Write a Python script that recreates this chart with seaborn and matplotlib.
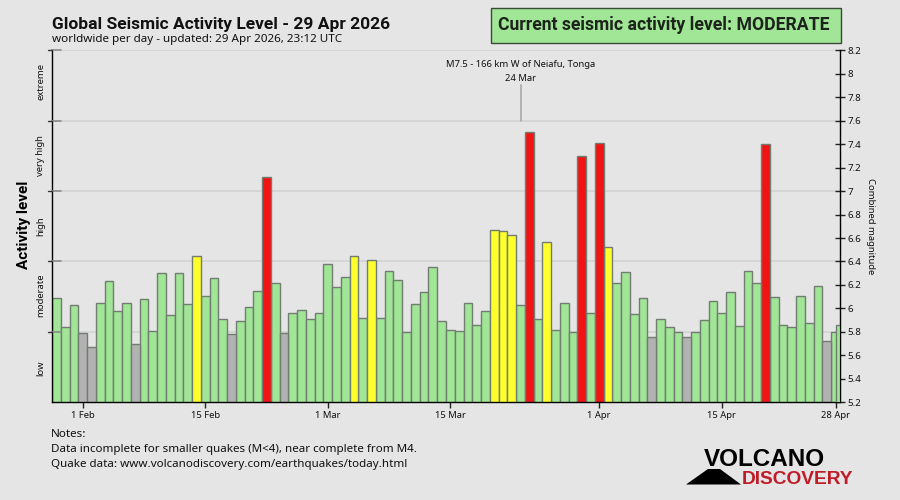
import matplotlib
matplotlib.use("Agg")
import matplotlib.pyplot as plt
import pandas as pd
import seaborn as sns
from matplotlib.patches import Polygon, Rectangle

days = pd.date_range("2026-01-29", "2026-04-28").strftime("%d %b").tolist()
values = [6.09, 5.84, 6.03, 5.79, 5.67, 6.05, 6.23, 5.98, 6.05, 5.70,
          6.08, 5.81, 6.30, 5.94, 6.30, 6.04, 6.45, 6.11, 6.26, 5.91,
          5.78, 5.89, 6.01, 6.15, 7.12, 6.22, 5.79, 5.96, 5.99, 5.91,
          5.96, 6.38, 6.18, 6.27, 6.45, 5.92, 6.41, 5.92, 6.32, 6.24,
          5.80, 6.04, 6.14, 6.35, 5.89, 5.82, 5.81, 6.05, 5.86, 5.98,
          6.67, 6.66, 6.63, 6.03, 7.50, 5.91, 6.57, 5.82, 6.05, 5.80,
          7.30, 5.96, 7.41, 6.52, 6.22, 6.31, 5.95, 6.09, 5.76, 5.91,
          5.84, 5.80, 5.76, 5.80, 5.90, 6.06, 5.96, 6.14, 5.85, 6.32,
          6.22, 7.40, 6.10, 5.86, 5.84, 6.11, 5.88, 6.19, 5.72, 5.80]
today_value = 5.86
colors_by_level = {"below": "#b2b2b2", "moderate": "#a1e596", "elevated": "#ffff2e", "major": "#f01414"}
yellow_days = [16, 34, 36, 50, 51, 52, 56, 63]
red_days = [24, 54, 60, 62, 81]
grey_days = [3, 4, 9, 20, 26, 68, 72, 88]
levels = ["elevated" if i in yellow_days else "major" if i in red_days
          else "below" if i in grey_days else "moderate" for i in range(len(values))]
tick_days = ["01 Feb", "15 Feb", "01 Mar", "15 Mar", "01 Apr", "15 Apr", "28 Apr"]
tick_labels = ["1 Feb", "15 Feb", "1 Mar", "15 Mar", "1 Apr", "15 Apr", "28 Apr"]
level_edges = [5.8, 6.4, 7.0, 7.6, 8.2]
level_names = ["low", "moderate", "high", "very high", "extreme"]
level_label_y = [5.49, 6.115, 6.7, 7.3, 7.93]
mag_ticks = [5.2, 5.4, 5.6, 5.8, 6, 6.2, 6.4, 6.6, 6.8, 7, 7.2, 7.4, 7.6, 7.8, 8, 8.2]
mag_labels = ["5.2", "5.4", "5.6", "5.8", "6", "6.2", "6.4", "6.6", "6.8", "7", "7.2", "7.4", "7.6", "7.8", "8", "8.2"]

sns.set_style("white")
plt.rcParams["font.family"] = ["Noto Sans", "DejaVu Sans"]
BG = "#e5e5e5"
FONT = "#111111"
EDGE = "#727d72"
BOLD = "Roboto"
W, H = 900, 500
fig = plt.figure(figsize=(9, 5), dpi=100, facecolor=BG)
ax = fig.add_axes([52 / W, 1 - 402.3 / H, 788 / W, 352 / H], facecolor=BG)

for e in level_edges:
    ax.axhline(e, color="#d2d2d2", lw=1.2, zorder=0)

df = pd.DataFrame({"day": days, "value": values, "level": levels})
sns.barplot(data=df, x="day", y="value", hue="level", order=days, palette=colors_by_level,
            dodge=False, width=1, saturation=1, edgecolor=EDGE, linewidth=1,
            legend=False, ax=ax, zorder=2)
ax.bar(len(days) - 1 + 0.25, today_value, width=0.5, color=colors_by_level["moderate"],
       edgecolor=EDGE, linewidth=1, zorder=3)

ax.set_xlim(-0.5, len(days) - 0.5)
ax.set_ylim(5.2, 8.2)
ax.set_xlabel("")
ax.set_ylabel("")
ax.spines["top"].set_visible(False)
for s in ["left", "right", "bottom"]:
    ax.spines[s].set_color("black")
    ax.spines[s].set_linewidth(1)
    ax.spines[s].set_visible(True)

ax.set_xticks([days.index(d) for d in tick_days], tick_labels, fontsize=6.8, color=FONT)
ax.tick_params(axis="x", direction="inout", length=8, width=1, color="#222222", pad=2, bottom=True)
ax.yaxis.tick_right()
ax.set_yticks(mag_ticks, mag_labels, fontsize=7, color=FONT)
ax.tick_params(axis="y", direction="inout", length=7, width=1, color="#222222", pad=2, right=True)
for e in level_edges:
    ax.plot([0, 0.012], [e, e], transform=ax.get_yaxis_transform(), color="#8a8a8a", lw=1.2,
            clip_on=False, zorder=4)
    ax.plot([-0.005, 0], [e, e], transform=ax.get_yaxis_transform(), color="#333333", lw=1,
            clip_on=False, zorder=4)

for name, ypos in zip(level_names, level_label_y):
    ax.text(-0.0145, ypos, name, transform=ax.get_yaxis_transform(),
            rotation=90, ha="center", va="center", fontsize=6.8, color=FONT)

peak = days.index("24 Mar")
ax.plot([peak - 0.9, peak - 0.9], [7.6, 7.9], color="#a8a8a8", lw=1.2, zorder=1)
ax.text(peak - 0.95, 8.08, "M7.5 - 166 km W of Neiafu, Tonga", ha="center", va="center", fontsize=6.8, color=FONT)
ax.text(peak - 0.95, 7.96, "24 Mar", ha="center", va="center", fontsize=6.8, color=FONT)

def px(x, y, s, **kw):
    fig.text(x / W, 1 - y / H, s, **kw)

px(52, 24.5, "Global Seismic Activity Level - 29 Apr 2026", fontsize=12.5, fontweight="bold", family=BOLD, va="center", color=FONT)
px(52, 39.5, "worldwide per day - updated: 29 Apr 2026, 23:12 UTC", fontsize=8.4, va="center", color=FONT)
fig.add_artist(Rectangle((490.5 / W, 1 - 42.5 / H), 350 / W, 34 / H, transform=fig.transFigure,
                         facecolor="#a1e596", edgecolor="#3c4a3c", lw=1))
px(663.5, 24.5, "Current seismic activity level: MODERATE", fontsize=12.7, fontweight="bold", family=BOLD,
   ha="center", va="center", color="#1c241c")
px(24, 225, "Activity level", fontsize=11, fontweight="bold", family=BOLD, rotation=90, ha="center", va="center", color="black")
px(871, 226, "Combined magnitude", fontsize=6.8, rotation=270, ha="center", va="center", color=FONT)
px(51, 434.5, "Notes:", fontsize=8.35, va="center", color=FONT)
px(51, 449.5, "Data incomplete for smaller quakes (M<4), near complete from M4.", fontsize=8.35, va="center", color=FONT)
px(51, 464.5, "Quake data: www.volcanodiscovery.com/earthquakes/today.html", fontsize=8.35, va="center", color=FONT)

fig.add_artist(Polygon([(686 / W, 1 - 484.5 / H), (708 / W, 1 - 469 / H), (720 / W, 1 - 469 / H),
                        (741 / W, 1 - 484.5 / H)], closed=True, transform=fig.transFigure,
                       facecolor="black", edgecolor="none"))
px(704, 459.5, "VOLCANO", fontsize=17.5, fontweight="bold", family="Liberation Sans", va="center", color="black")
px(742, 479, "DISCOVERY", fontsize=13.8, fontweight="bold", family="Liberation Sans", va="center", color="#c01c28")

fig.savefig("out.png", dpi=100, facecolor=BG)
